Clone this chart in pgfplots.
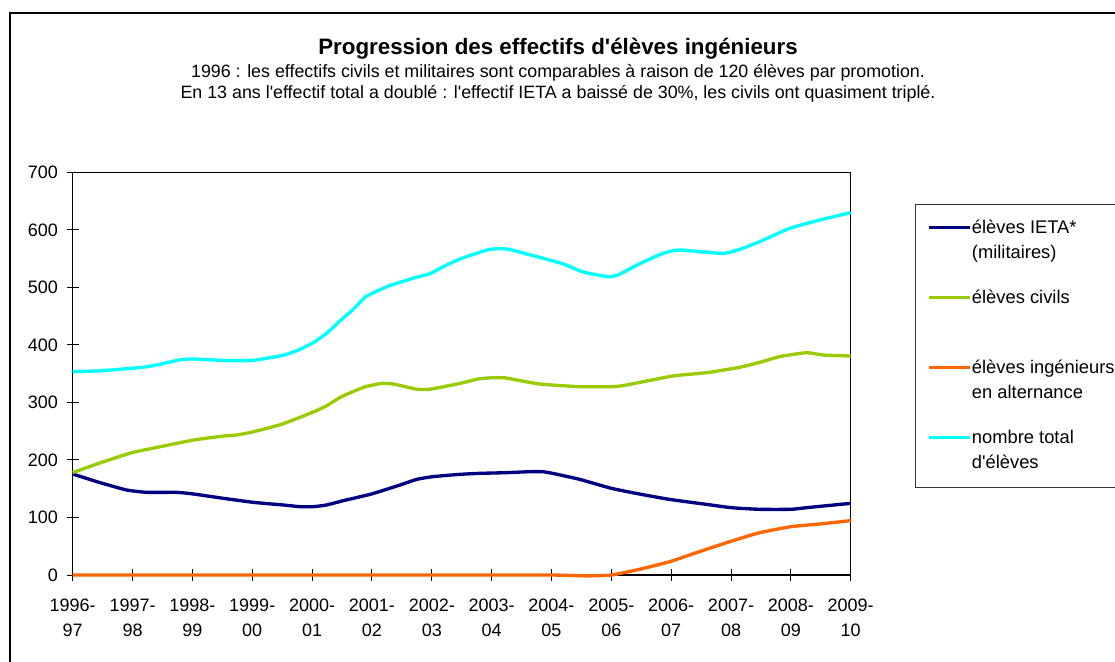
\documentclass[border=0pt]{standalone}
\usepackage{fontspec}
\setmainfont{Liberation Sans}[Ligatures=TeXOff]
\usepackage{pgfplots}
\pgfplotsset{compat=1.18}
\definecolor{cNavy}{HTML}{000080}
\definecolor{cGreen}{HTML}{99CC00}
\definecolor{cOrange}{HTML}{FF6600}
\definecolor{cCyan}{HTML}{00FFFF}
\newcommand{\lgent}[2]{\rule[-#1]{0pt}{\dimexpr #1+9pt\relax}\begin{tabular}[t]{@{}l@{}}#2\end{tabular}}
\begin{document}
\begin{tikzpicture}
\begin{axis}[
  at={(43.62pt,-345pt)}, anchor=south west,
  scale only axis, width=466.8pt, height=241.6pt,
  xmin=0, xmax=13, ymin=0, ymax=700,
  xtick={0,...,13},
  xticklabels={{1996-\\97},{1997-\\98},{1998-\\99},{1999-\\00},{2000-\\01},{2001-\\02},{2002-\\03},{2003-\\04},{2004-\\05},{2005-\\06},{2006-\\07},{2007-\\08},{2008-\\09},{2009-\\10}},
  ytick={0,100,...,700},
  tick pos=left,
  tick align=center, major tick length=7pt,
  tick style={black, line width=0.6pt},
  axis line style={black, line width=0.7pt},
  tick label style={font=\fontsize{10.8}{15}\selectfont},
  xticklabel style={align=center, yshift=-7.1pt},
  yticklabel style={xshift=-1.8pt},
  /pgf/number format/assume math mode=true,
  clip=false,
  legend style={at={(1.0826,0.9213)}, anchor=north west, draw=black!80, line width=0.8pt,
    inner xsep=7.2pt, inner ysep=6.9pt, row sep=0pt, column sep=0pt,
    font=\fontsize{11}{15}\selectfont,
    cells={anchor=base west},
    nodes={inner sep=0pt, text depth=, text height=}},
  legend image code/.code={\draw[#1, line width=2pt] (0pt,3.6pt) -- (24.6pt,3.6pt);},
]
\addplot[cNavy, line width=2pt, line join=round, no marks, smooth, tension=0.3] coordinates {
(0,175.6) (0.46,160.5) (0.9,147.8) (1.24,143.7) (1.74,143.7) (2.02,140.8) (2.52,133.3) (3.02,126.3) (3.52,121.7) (3.8,118.8) (4.02,118.8) (4.24,121.7) (4.52,129.2) (4.99,140.8) (5.47,156.5) (5.75,166.3) (6.02,171) (6.47,175) (6.8,176.7) (7.24,177.9) (7.63,179.6) (7.85,179.6) (8.02,176.7) (8.47,166.3) (9.0,150.7) (9.47,140.8) (9.97,131.5) (10.59,122.8) (11.01,117) (11.48,114.2) (12.0,114.2) (12.26,117) (13,124.6)};
\addlegendentry{\lgent{31.5pt}{élèves IETA*\\(militaires)}}
\addplot[cGreen, line width=2pt, line join=round, no marks, smooth, tension=0.3] coordinates {
(0,178) (0.46,195) (0.99,212.7) (1.46,223) (2.02,234.7) (2.52,241.6) (2.74,243.4) (3.02,249) (3.49,262) (3.99,282) (4.24,294) (4.49,310) (4.88,327) (5.16,333) (5.36,332) (5.75,323) (5.97,323) (6.47,333) (6.77,340.7) (7.02,343) (7.24,342.5) (7.8,332) (8.47,327.4) (9.0,327.4) (9.22,329.7) (10.03,346) (10.59,351.7) (11.14,361) (11.48,369.7) (11.81,379.6) (12.26,386.5) (12.54,382.4) (13,380.7)};
\addlegendentry{\lgent{31.5pt}{élèves civils}}
\addplot[cOrange, line width=2pt, line join=round, no marks, smooth, tension=0.3] coordinates {
(0,0) (1,0) (2,0) (3,0) (4,0) (5,0) (6,0) (7,0) (8,0) (8.6,-1.5) (9,0) (9.47,9.9) (9.97,23) (10.47,40.6) (11.01,59) (11.48,73.6) (12.0,84) (12.48,88.7) (13,94.5)};
\addlegendentry{\lgent{31.5pt}{élèves ingénieurs\\en alternance}}
\addplot[cCyan, line width=2pt, line join=round, no marks, smooth, tension=0.3] coordinates {
(0,353.5) (0.46,355) (1.24,362) (1.79,374) (2.02,375.5) (2.52,373) (3.0,373) (3.52,382) (3.77,391) (4.02,404) (4.24,420) (4.49,444) (4.69,462) (4.9,484) (5.27,502) (5.69,516) (5.97,524) (6.25,539) (6.5,550.5) (6.96,566) (7.24,567) (7.52,560) (8.19,541) (8.52,527) (8.94,518.6) (9.11,521.5) (9.47,541) (9.86,559) (10.14,565) (10.86,559) (11.14,566) (11.48,579.5) (11.98,602.6) (12.48,617) (13,630)};
\addlegendentry{\lgent{12pt}{nombre total\\d'élèves}}
\end{axis}
\begin{scope}[x=0.6pt, y=-0.6pt]
\draw[line width=1.2pt] (10,680) -- (10,13) -- (1130,13);
\node[anchor=base, font=\bfseries\fontsize{13.4}{15}\selectfont] at (558,54) {Progression des effectifs d'élèves ingénieurs};
\node[anchor=base, font=\fontsize{10.7}{12}\selectfont] at (558,77) {1996 : les effectifs civils et militaires sont comparables à raison de 120 élèves par promotion.};
\node[anchor=base, font=\fontsize{10.7}{12}\selectfont] at (558,98) {En 13 ans l'effectif total a doublé : l'effectif IETA a baissé de 30\%, les civils ont quasiment triplé.};
\end{scope}
\pgfresetboundingbox
\useasboundingbox (0,0) rectangle (669pt,-396.6pt);
\end{tikzpicture}
\end{document}
